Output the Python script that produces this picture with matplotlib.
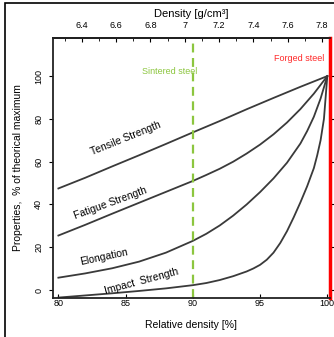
import matplotlib.pyplot as plt
import matplotlib.patches as patches
import numpy as np

plt.rcParams['font.family'] = ['Liberation Sans', 'DejaVu Sans']

# values (relative density %, property % of max)
tensile_x = [80, 82, 84, 86, 88, 90, 92, 94, 96, 98, 100]
tensile_y = [47.5, 52.5, 57.8, 63, 68.3, 73.7, 79, 84.5, 89.8, 95, 100]

fatigue_x = [80, 82, 84, 86, 88, 90, 91, 92, 93, 94, 95, 96, 97, 98, 99, 100]
fatigue_y = [25.5, 30.5, 35.7, 40.8, 45.9, 51, 53.8, 56.7, 60, 63.8, 68, 72.8, 78.3, 84.6, 91.8, 100]

elong_x = [80, 82, 84, 86, 88, 90, 91, 92, 93, 94, 95, 96, 97, 98, 98.5, 99, 99.5, 100]
elong_y = [5.8, 7.8, 10.2, 13.3, 17.5, 23, 26.3, 30.2, 34.8, 40, 45.8, 52.2, 59.5, 68.5,
           74.3, 81, 89.5, 100]

impact_x = [80, 82, 84, 86, 88, 90, 91, 92, 93, 94, 94.5, 95, 95.5, 96, 96.5, 97, 97.5,
            98, 98.5, 99, 99.25, 99.5, 99.75, 100]
impact_y = [-3.5, -2.5, -1.5, -0.4, 0.8, 2.3, 3.3, 4.7, 6.5, 8.7, 10.1, 11.8, 14.2, 17.5,
            22, 27.5, 34, 41, 48.5, 57, 63, 70, 80, 100]

sintered = 90
full_density = 7.83  # g/cm3 at 100 %

x_ticks = [80, 85, 90, 95, 100]
y_ticks = [0, 20, 40, 60, 80, 100]
top_ticks = [6.4, 6.6, 6.8, 7.0, 7.2, 7.4, 7.6, 7.8]
top_labels = ['6.4', '6.6', '6.8', '7', '7.2', '7.4', '7.6', '7.8']

fig = plt.figure(figsize=(3.34, 3.37), dpi=100)
ax = fig.add_axes([0.1587, 0.1157, 0.8293, 0.7715])

line_kw = dict(color='#3a3a3a', lw=1.3, solid_joinstyle='round')
ax.plot(tensile_x, tensile_y, **line_kw)
ax.plot(fatigue_x, fatigue_y, **line_kw)
ax.plot(elong_x, elong_y, **line_kw)
ax.plot(impact_x, impact_y, **line_kw)

ax.axvline(sintered, color='#8cc63f', lw=1.6, ls=(0, (4, 2.5)))

ax.set_xlim(79.6, 100.2)
ax.set_ylim(-3.7, 117.8)

# curve labels
lab_kw = dict(fontsize=7.5, ha='center', va='center', rotation_mode='anchor')
ax.text(85, 71, 'Tensile Strength', rotation=22, **lab_kw)
ax.text(83.9, 40.6, 'Fatigue Strength', rotation=20, **lab_kw)
ax.text(83.4, 15.4, 'Elongation', rotation=12, **lab_kw)
ax.text(86.2, 3.9, 'Impact  Strength', rotation=15, **lab_kw)

ax.text(88.3, 102, 'Sintered steel', color='#8cc63f', fontsize=6.5, ha='center', va='center')
ax.text(97.9, 108.2, 'Forged steel', color='#ff2a2a', fontsize=6.5, ha='center', va='center')

# spines / ticks
for s in ['left', 'top', 'bottom']:
    ax.spines[s].set_linewidth(1.3)
    ax.spines[s].set_color('#222222')
ax.spines['right'].set_color('red')
ax.spines['right'].set_linewidth(2.5)

ax.set_xticks(x_ticks)
ax.set_xticklabels([str(v) for v in x_ticks])
ax.set_yticks(y_ticks)
ax.set_yticklabels([str(v) for v in y_ticks], rotation=90, va='center')
ax.tick_params(axis='x', direction='in', length=3, pad=1, labelsize=6.5)
ax.tick_params(axis='y', direction='out', length=3, pad=4, labelsize=6.5,
               right=True, labelright=False)
ax.set_xlabel('Relative density [%]', fontsize=7.5, labelpad=8)
ax.set_ylabel('Properties,  % of theorical maximum', fontsize=7.5, labelpad=8)

# top density axis
top = ax.secondary_xaxis('top', functions=(lambda r: r * full_density / 100,
                                           lambda d: d * 100 / full_density))
top.set_xticks(top_ticks)
top.set_xticklabels(top_labels)
top.set_xticks(np.arange(6.3, 7.85, 0.1), minor=True)
top.tick_params(direction='in', length=3, pad=6, labelsize=6.5)
top.tick_params(which='minor', direction='in', length=2)
top.spines['top'].set_linewidth(1.3)
top.set_xlabel('Density [g/cm\u00b3]', fontsize=8, labelpad=3)

# frame around the picture
fig.patches.append(patches.Rectangle((5 / 334, -0.05), 1.1, 1.05 - 3 / 337,
                                     transform=fig.transFigure, fill=False,
                                     edgecolor='black', lw=1.2))

fig.savefig('out.png', dpi=100)
